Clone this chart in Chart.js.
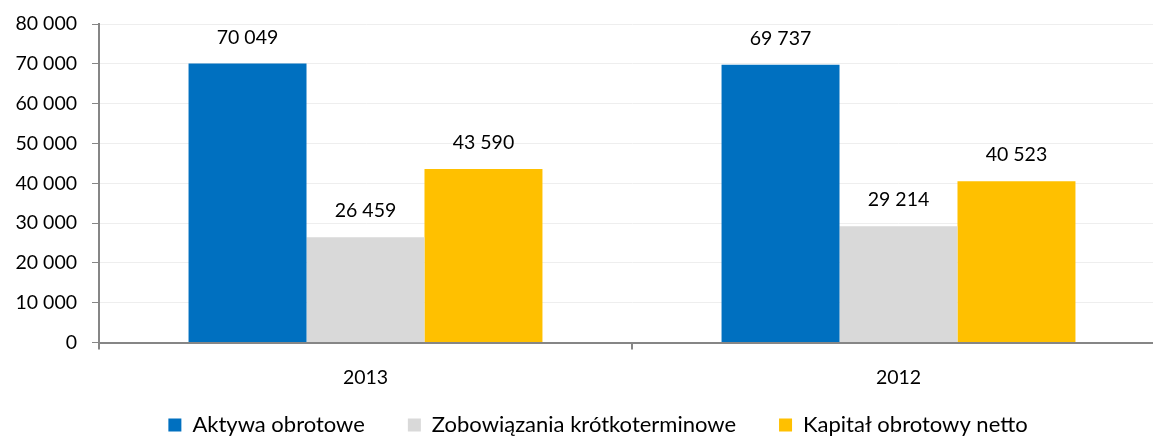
<!DOCTYPE html>
<html>
<head>
<meta charset="utf-8">
<script src="https://cdn.jsdelivr.net/npm/chart.js@4"></script>
<style>
  html, body { margin: 0; padding: 0; background: #fff; overflow: hidden; }
  #wrap { width: 1166px; height: 437px; }
</style>
</head>
<body>
<div id="wrap"><canvas id="chart" width="1166" height="437"></canvas></div>
<script>
// Data
const years = ['2013', '2012'];
const aktywa = [70049, 69737];
const zobowiazania = [26459, 29214];
const kapital = [43590, 40523];
const seriesNames = ['Aktywa obrotowe', 'Zobowiązania krótkoterminowe', 'Kapitał obrotowy netto'];

const FONT = 'Lato';
const NUM_SIZE = 19.5;
const LEGEND_SIZE = 22;
const LEGEND_GAP = 43;

// 70049 -> "70 049"
function fmt(v) {
    return String(Math.round(v)).replace(/\B(?=(\d{3})+(?!\d))/g, ' ');
}

// Value labels above the bars
const barLabels = {
    id: 'barLabels',
    afterDatasetsDraw(chart) {
        const ctx = chart.ctx;
        ctx.save();
        ctx.font = NUM_SIZE + 'px ' + FONT;
        ctx.fillStyle = '#000';
        ctx.textAlign = 'center';
        ctx.textBaseline = 'middle';
        chart.data.datasets.forEach((ds, i) => {
            chart.getDatasetMeta(i).data.forEach((bar, j) => {
                ctx.fillText(fmt(ds.data[j]), bar.x, bar.y - 26);
            });
        });
        ctx.restore();
    }
};

// Move the legend to where the original has it (centred a bit right, near the bottom)
const legendPlace = {
    id: 'legendPlace',
    afterLayout(chart) {
        const lg = chart.legend;
        const dx = 598 - (lg.left + lg.right) / 2;
        lg.left += dx;
        lg.right += dx;
        lg.top = 425 - LEGEND_GAP - LEGEND_SIZE / 2;
        lg.bottom = chart.height;
    }
};

const ctx = document.getElementById('chart').getContext('2d');
new Chart(ctx, {
    type: 'bar',
    data: {
        labels: years,
        datasets: [
            { label: seriesNames[0], data: aktywa, backgroundColor: '#0070C0' },
            { label: seriesNames[1], data: zobowiazania, backgroundColor: '#D9D9D9' },
            { label: seriesNames[2], data: kapital, backgroundColor: '#FFC000' }
        ]
    },
    options: {
        responsive: false,
        animation: false,
        categoryPercentage: 0.664,
        barPercentage: 1,
        layout: { padding: { left: 0, right: 1, top: 24, bottom: 0 } },
        scales: {
            x: {
                grid: { drawOnChartArea: false, tickColor: '#868686', tickLength: 7, lineWidth: 2 },
                border: { color: '#868686', width: 2 },
                ticks: { color: '#000', font: { family: FONT, size: NUM_SIZE }, padding: 17 },
                afterFit(s) {
                    s.height = s.chart.height - s.chart.legend.height - 342.5;
                }
            },
            y: {
                min: 0,
                max: 80000,
                ticks: { stepSize: 10000, color: '#000', font: { family: FONT, size: NUM_SIZE }, padding: 15, callback: v => fmt(v) },
                grid: { color: '#EEEEEE', tickColor: '#868686', tickLength: 7 },
                border: { color: '#868686', width: 2 },
                afterFit(s) { s.width = 99; s.paddingTop = 0; s.paddingBottom = 0; }
            }
        },
        plugins: {
            tooltip: { enabled: false },
            legend: {
                position: 'bottom',
                maxHeight: 40,
                labels: {
                    boxWidth: 13,
                    boxHeight: 13,
                    padding: LEGEND_GAP,
                    color: '#000',
                    font: { family: FONT, size: LEGEND_SIZE }
                }
            }
        }
    },
    plugins: [barLabels, legendPlace]
});
</script>
</body>
</html>
